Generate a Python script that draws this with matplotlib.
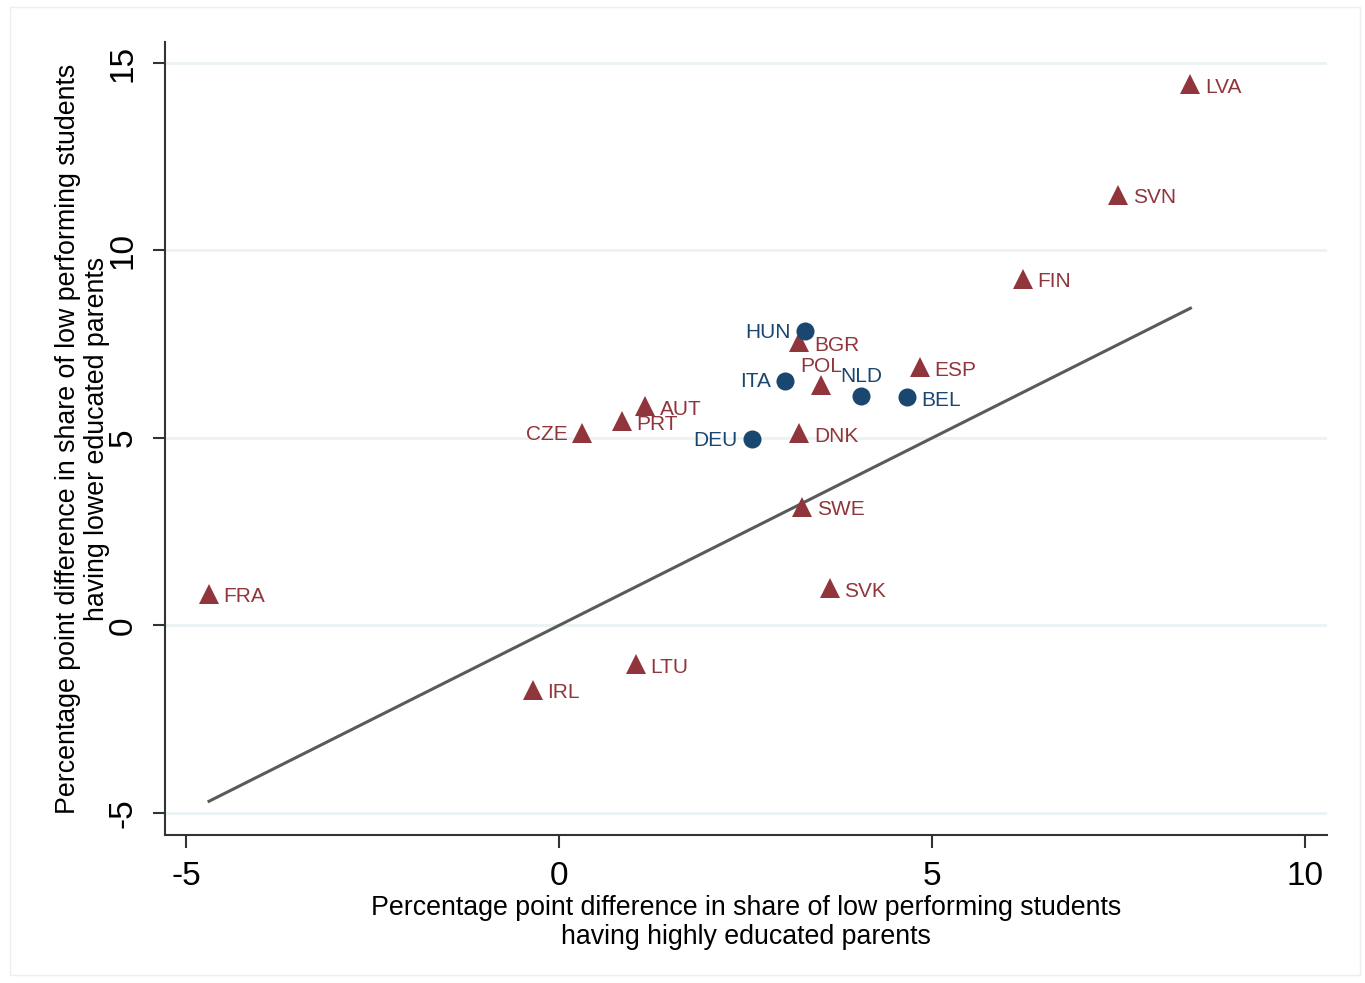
import matplotlib
matplotlib.use("Agg")
import matplotlib.pyplot as plt
from matplotlib.patches import Rectangle

plt.rcParams['font.family'] = ['Liberation Sans', 'DejaVu Sans']

# Data: (x = highly educated parents, y = lower educated parents)
tri_names = ['LVA', 'SVN', 'FIN', 'BGR', 'ESP', 'POL', 'AUT', 'PRT', 'CZE',
             'DNK', 'SWE', 'SVK', 'FRA', 'LTU', 'IRL']
tri_x = [8.46, 7.49, 6.21, 3.22, 4.83, 3.51, 1.15, 0.84, 0.31,
         3.22, 3.26, 3.63, -4.69, 1.03, -0.35]
tri_y = [14.43, 11.49, 9.25, 7.55, 6.88, 6.40, 5.84, 5.44, 5.12,
         5.12, 3.17, 0.99, 0.85, -1.04, -1.71]

circ_names = ['HUN', 'ITA', 'NLD', 'BEL', 'DEU']
circ_x = [3.30, 3.03, 4.05, 4.66, 2.59]
circ_y = [7.84, 6.53, 6.11, 6.08, 4.96]

xticks = [-5, 0, 5, 10]
yticks = [-5, 0, 5, 10, 15]

# label positions (clock style)
label_pos = {'HUN': 9, 'ITA': 9, 'DEU': 9, 'CZE': 9, 'POL': 12, 'NLD': 12}

maroon = '#90353B'
navy = '#1A476F'

fig = plt.figure(figsize=(13.65, 9.83), dpi=100)
fig.patch.set_facecolor('white')
fig.add_artist(Rectangle((10/1365, 8/983), 1350/1365, 968/983, transform=fig.transFigure,
                         facecolor='white', edgecolor='#EEEEEE', lw=1, zorder=-1))
ax = fig.add_axes([165/1365, 148/983, (1327-165)/1365, (835-42)/983])
ax.set_facecolor('white')

ax.set_xlim(-5.28, 10.29)
ax.set_ylim(-5.59, 15.56)

for yv in yticks:
    ax.axhline(yv, color='#EAF2F3', lw=2, zorder=0)

# 45-degree line
allx = tri_x + circ_x
lo, hi = min(allx), max(allx)
ax.plot([lo, hi], [lo, hi], color='#5A5A5A', lw=2.2, zorder=1)

ax.plot(tri_x, tri_y, linestyle='none', marker='^', markersize=15,
        color=maroon, markeredgewidth=0, zorder=3)
ax.plot(circ_x, circ_y, linestyle='none', marker='o', markersize=13,
        color=navy, markeredgewidth=0, zorder=3)

def label(name, x, y, color):
    pos = label_pos.get(name, 3)
    if pos == 3:
        off, ha, va = (10.5, -2), 'left', 'center'
    elif pos == 9:
        off, ha, va = (-10.5, -0.5), 'right', 'center'
    else:
        off, ha, va = (0, 14), 'center', 'center'
    ax.annotate(name, (x, y), xytext=off, textcoords='offset points',
                ha=ha, va=va, fontsize=15, color=color, zorder=4)

for n, x, y in zip(tri_names, tri_x, tri_y):
    label(n, x, y, maroon)
for n, x, y in zip(circ_names, circ_x, circ_y):
    label(n, x, y, navy)

ax.set_xticks(xticks)
ax.set_yticks(yticks)
ax.set_xticklabels([str(v) for v in xticks], fontsize=24)
ax.set_yticklabels([str(v) for v in yticks], fontsize=24, rotation=90, va='center')
ax.tick_params(axis='x', length=9, width=1.5, color='#333333', pad=10)
ax.tick_params(axis='y', length=9, width=1.5, color='#333333', pad=10)

for s in ['top', 'right']:
    ax.spines[s].set_visible(False)
for s in ['left', 'bottom']:
    ax.spines[s].set_linewidth(1.5)
    ax.spines[s].set_color('#333333')

ax.set_xlabel('Percentage point difference in share of low performing students\nhaving highly educated parents',
              fontsize=19.3, labelpad=2, linespacing=1.15)
ax.set_ylabel('Percentage point difference in share of low performing students\nhaving lower educated parents',
              fontsize=19.3, labelpad=-2, linespacing=1.15)

fig.savefig('out.png', dpi=100, facecolor='white')
